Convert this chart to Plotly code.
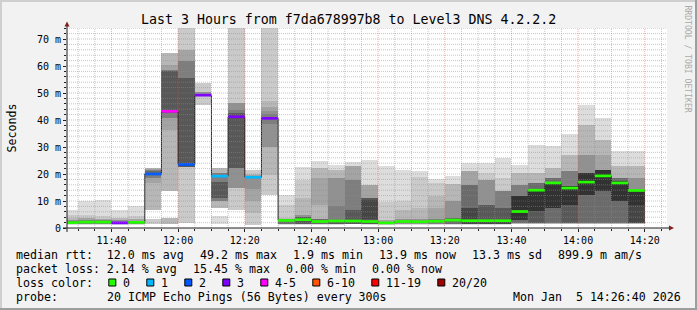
import plotly.graph_objects as go
from datetime import datetime, timedelta

# ---------------- data ----------------
DAY = "2026-01-05"
BAR_STARTS = ["11:25", "11:30", "11:35", "11:40", "11:45", "11:50", "11:55",
              "12:00", "12:05", "12:10", "12:15", "12:20", "12:25", "12:30",
              "12:35", "12:40", "12:45", "12:50", "12:55", "13:00", "13:05",
              "13:10", "13:15", "13:20", "13:25", "13:30", "13:35", "13:40",
              "13:45", "13:50", "13:55", "14:00", "14:05", "14:10", "14:15"]
MEDIAN_MS = [2.0, 2.2, 2.2, 1.9, 2.1, 20.0, 43.2, 23.5, 49.2, 19.2, 41.2, 18.8, 40.6,
             2.8, 3.1, 2.4, 2.6, 2.6, 2.4, 1.9, 2.4, 2.3, 2.5, 2.9, 2.7, 2.7, 2.7,
             6.1, 14.0, 16.7, 14.8, 17.0, 19.3, 16.7, 13.9]
LOST_PINGS = [0, 0, 0, 3, 0, 2, 5, 2, 3, 1, 3, 1, 3,
              0, 0, 0, 0, 0, 0, 0, 0, 0, 0, 0, 0, 0, 0,
              0, 0, 0, 0, 0, 0, 0, 0]
# smoke bands per bar: (low ms, high ms, ping-rank 1=outermost .. 10=innermost)
SMOKE = [
    [(1.2, 6.8, 1), (1.3, 4.9, 2), (1.4, 3.7, 3), (1.5, 3.0, 5), (1.6, 2.5, 7)],
    [(1.2, 9.9, 1), (1.3, 4.9, 2), (1.4, 3.7, 4), (1.6, 2.8, 6)],
    [(1.2, 10.5, 1), (1.3, 4.3, 2), (1.4, 3.5, 4), (1.6, 2.8, 6)],
    [(1.2, 6.5, 1), (1.3, 3.7, 3), (1.4, 2.8, 5), (1.5, 2.3, 7)],
    [(1.2, 8.0, 1), (1.3, 4.3, 2), (1.4, 3.3, 4), (1.6, 2.6, 6)],
    [(1.6, 3.5, 2), (6.5, 22.2, 3), (16.7, 21.8, 4), (18.5, 21.3, 6), (19.5, 21.0, 7)],
    [(1.6, 3.7, 3), (13.6, 64.8, 3), (36.4, 60.5, 4), (40.7, 58.6, 6), (42.5, 58.0, 8)],
    [(1.9, 80.0, 2), (24.0, 66.0, 4), (24.0, 61.7, 6), (22.5, 55.6, 8)],
    [(45.7, 53.7, 2), (48.8, 50.3, 5)],
    [(1.6, 4.5, 1), (7.5, 22.2, 3), (9.9, 20.5, 6), (11.1, 17.0, 8)],
    [(6.8, 80.0, 2), (14.8, 46.3, 5), (22.2, 43.8, 6), (22.2, 42.5, 8)],
    [(1.0, 21.3, 2), (5.6, 20.0, 3), (9.9, 19.5, 4), (14.5, 19.2, 5)],
    [(12.1, 80.0, 2), (19.7, 46.9, 3), (30.0, 45.0, 4), (30.0, 43.2, 5), (38.5, 42.3, 6)],
    [(1.2, 12.3, 1), (1.3, 8.6, 2), (1.5, 3.7, 3), (1.6, 3.3, 7)],
    [(1.2, 22.6, 1), (1.3, 17.9, 2), (1.4, 11.1, 3), (1.5, 4.9, 5), (1.6, 4.0, 8)],
    [(1.2, 24.7, 1), (1.3, 22.2, 3), (8.6, 18.5, 4), (1.5, 3.3, 7)],
    [(1.2, 23.2, 1), (1.3, 21.6, 3), (1.4, 18.5, 5), (1.5, 8.0, 6), (1.6, 3.1, 8)],
    [(1.3, 24.3, 1), (1.4, 22.8, 4), (1.5, 17.9, 6), (1.6, 6.8, 8)],
    [(1.2, 25.3, 1), (1.3, 16.0, 4), (1.4, 11.1, 8), (3.5, 10.5, 9)],
    [(1.1, 23.1, 1), (1.2, 9.5, 2), (1.3, 3.0, 4)],
    [(1.2, 21.6, 1), (1.3, 9.9, 2), (1.4, 6.8, 3), (1.5, 3.3, 5)],
    [(1.2, 21.0, 1), (1.3, 18.8, 2), (1.4, 7.4, 3), (1.5, 3.2, 5)],
    [(1.2, 18.2, 1), (1.3, 16.7, 2), (1.4, 11.7, 3), (1.5, 7.4, 4), (1.6, 3.4, 6)],
    [(1.2, 19.3, 1), (1.3, 16.3, 3), (1.4, 9.9, 5), (1.6, 3.6, 7)],
    [(1.2, 24.1, 1), (1.3, 21.0, 4), (1.4, 16.0, 7), (1.6, 7.4, 9)],
    [(1.2, 24.1, 1), (1.3, 20.4, 2), (1.4, 17.9, 5), (1.5, 8.6, 8), (1.6, 3.1, 9)],
    [(1.2, 25.9, 1), (1.3, 18.5, 2), (1.4, 13.6, 6), (1.5, 7.4, 8), (1.6, 3.1, 9)],
    [(1.5, 23.2, 1), (1.6, 20.4, 3), (1.7, 16.0, 6), (1.9, 11.7, 7), (3.1, 11.7, 10)],
    [(1.5, 30.9, 1), (1.6, 20.4, 3), (1.9, 16.7, 7), (1.9, 14.4, 8), (6.2, 14.4, 10)],
    [(1.5, 30.2, 1), (1.6, 22.2, 3), (1.9, 18.5, 7), (7.4, 17.2, 10)],
    [(1.5, 34.8, 1), (1.6, 27.2, 3), (1.9, 21.0, 6), (1.9, 15.4, 8), (8.6, 15.4, 10)],
    [(1.5, 45.4, 1), (1.6, 38.3, 3), (1.9, 27.2, 5), (1.9, 20.4, 7), (12.3, 20.4, 10)],
    [(1.5, 40.7, 1), (1.6, 32.7, 3), (1.9, 27.2, 4), (1.9, 21.6, 7), (13.6, 21.6, 10)],
    [(1.5, 28.6, 1), (1.6, 22.8, 3), (1.9, 18.5, 7), (9.9, 17.3, 10)],
    [(1.5, 28.6, 1), (1.6, 22.8, 3), (1.9, 18.5, 5), (1.9, 14.2, 9), (8.6, 14.2, 10)],
]
X_TICK_TIMES = ["11:40", "12:00", "12:20", "12:40", "13:00", "13:20", "13:40", "14:00", "14:20"]
X_TICK_LABELS = ["11:40", "12:00", "12:20", "12:40", "13:00", "13:20", "13:40", "14:00", "14:20"]
Y_TICK_VALUES = [0, 10, 20, 30, 40, 50, 60, 70]
Y_TICK_LABELS = ["0", "10 m", "20 m", "30 m", "40 m", "50 m", "60 m", "70 m"]
LOSS_LABELS = ["0", "1", "2", "3", "4-5", "6-10", "11-19", "20/20"]
LOSS_UPPER = [0, 1, 2, 3, 5, 10, 19, 20]
LOSS_COLORS = ["#26ff00", "#00b8ff", "#0059ff", "#7e00ff", "#ff00ff", "#ff5500", "#ff0000", "#a10000"]
TITLE = "Last 3 Hours from f7da678997b8 to Level3 DNS 4.2.2.2"
LEGEND_RTT = ["median rtt:  12.0 ms avg", "49.2 ms max", "1.9 ms min", "13.9 ms now",
              "13.3 ms sd", "899.9 m am/s"]
LEGEND_LOSS = ["packet loss: 2.14 % avg", "15.45 % max", "0.00 % min", "0.00 % now"]
PROBE_LABEL = "probe:"
PROBE_TEXT = "20 ICMP Echo Pings (56 Bytes) every 300s"
STAMP = "Mon Jan  5 14:26:40 2026"
WATERMARK = "RRDTOOL / TOBI OETIKER"
RANGE_START, RANGE_END = "11:26:40", "14:26:40"

# ---------------- layout constants ----------------
W, H = 697, 310
ML, MR, MT, MB = 67, 30, 28, 82
PW, PH = W - ML - MR, H - MT - MB
YMAX = 200 / 2.7
STEP = timedelta(minutes=5)
MONO = "DejaVu Sans Mono"
PITCH = 7.0
LEG_SIZE = PITCH / 0.60205
GAP = 16


def px(x):
    return (x - ML) / PW


def py(y):
    return (H - MB - y) / PH


def tm(s):
    fmt = "%Y-%m-%d %H:%M:%S" if s.count(":") == 2 else "%Y-%m-%d %H:%M"
    return datetime.strptime(DAY + " " + s, fmt)


def nb(s):
    return s.replace(" ", "\u00a0")


def gray(rank):
    v = int(190 / 10 * (10 - rank)) + 50
    return "#%02x%02x%02x" % (v, v, v)


def loss_color(lost):
    for up, c in zip(LOSS_UPPER, LOSS_COLORS):
        if lost <= up:
            return c
    return LOSS_COLORS[-1]


starts = [tm(s) for s in BAR_STARTS]
centers = [s + STEP / 2 for s in starts]

fig = go.Figure()

# smoke
for rank in range(1, 11):
    xs, bases, hs = [], [], []
    for c, bands in zip(centers, SMOKE):
        for lo, hi, r in bands:
            if r == rank:
                xs.append(c)
                bases.append(lo)
                hs.append(hi - lo)
    if xs:
        fig.add_trace(go.Bar(x=xs, y=hs, base=bases, width=STEP.total_seconds() * 1000,
                             marker=dict(color=gray(rank), line=dict(width=0)),
                             showlegend=False, hoverinfo="skip"))

# black median step line
fig.add_trace(go.Scatter(x=starts + [starts[-1] + STEP], y=MEDIAN_MS + [MEDIAN_MS[-1]],
                         mode="lines", line=dict(color="#202020", width=1, shape="hv"),
                         showlegend=False, hoverinfo="skip"))

# loss-coloured median bands
groups = {}
for s, m, lost in zip(starts, MEDIAN_MS, LOST_PINGS):
    col = loss_color(lost)
    g = groups.setdefault(col, ([], []))
    g[0].extend([s, s + STEP, None])
    g[1].extend([m, m, None])
for col, (xs, ys) in groups.items():
    fig.add_trace(go.Scatter(x=xs, y=ys, mode="lines", line=dict(color=col, width=2.7),
                             showlegend=False, hoverinfo="skip"))

shapes = []
# grid (drawn over the graph, like rrdtool)
GRID = "rgba(143,143,143,0.5)"
MGRID = "rgba(222,79,79,0.45)"
major_x = [tm(t) for t in X_TICK_TIMES]
t = tm("11:30")
while t <= tm("14:25"):
    if t not in major_x:
        shapes.append(dict(type="line", xref="x", yref="paper", x0=t, x1=t, y0=0, y1=1,
                           line=dict(color=GRID, width=1, dash="1px,1px"), layer="above"))
    t += STEP
for v in range(2, 75, 2):
    if v % 10:
        shapes.append(dict(type="line", xref="paper", yref="y", x0=0, x1=1, y0=v, y1=v,
                           line=dict(color=GRID, width=1, dash="1px,1px"), layer="above"))
for t in major_x:
    shapes.append(dict(type="line", xref="x", yref="paper", x0=t, x1=t, y0=0, y1=1,
                       line=dict(color=MGRID, width=1, dash="1px,1px"), layer="above"))
for v in Y_TICK_VALUES[1:]:
    shapes.append(dict(type="line", xref="paper", yref="y", x0=0, x1=1, y0=v, y1=v,
                       line=dict(color=MGRID, width=1, dash="1px,1px"), layer="above"))

# axes with arrows
AX = "#1f1f1f"
ARROW = "#801f1f"
shapes.append(dict(type="line", xref="paper", yref="paper", x0=0, x1=0, y0=py(232), y1=py(25),
                   line=dict(color=AX, width=1), layer="above"))
shapes.append(dict(type="line", xref="paper", yref="paper", x0=px(63), x1=px(670), y0=0, y1=0,
                   line=dict(color=AX, width=1), layer="above"))
shapes.append(dict(type="path", xref="paper", yref="paper",
                   path="M %f,%f L %f,%f L %f,%f Z" % (px(64.5), py(26.5), px(69.5), py(26.5), px(67), py(21.5)),
                   fillcolor=ARROW, line=dict(width=0), layer="above"))
shapes.append(dict(type="path", xref="paper", yref="paper",
                   path="M %f,%f L %f,%f L %f,%f Z" % (px(669), py(225.5), px(669), py(230.5), px(674), py(228)),
                   fillcolor=ARROW, line=dict(width=0), layer="above"))

# 3D frame
for (x0, y0, x1, y1, c) in [(0, 0, W, 2, "#cfcfcf"), (0, 0, 2, H, "#cfcfcf"),
                             (0, H - 2, W, H, "#9e9e9e"), (W - 2, 0, W, H, "#9e9e9e")]:
    shapes.append(dict(type="rect", xref="paper", yref="paper", x0=px(x0), x1=px(x1),
                       y0=py(y0), y1=py(y1), fillcolor=c, line=dict(width=0), layer="above"))

annotations = []


def text(x, y, s, size=LEG_SIZE, anchor="left", color="#000000", angle=0):
    annotations.append(dict(x=px(x), y=py(y), xref="paper", yref="paper", text=nb(s),
                            showarrow=False, xanchor=anchor, yanchor="middle",
                            font=dict(family=MONO, size=size, color=color),
                            borderpad=0, borderwidth=0, textangle=angle))


text(W / 2, 19.5, TITLE, size=8.0 / 0.60205, anchor="center")
text(11.5, 128, "Seconds", angle=-90, anchor="center")
text(687.5, 59, WATERMARK, size=8.1, angle=90, anchor="center", color="#aaaaaa")

x = 16
for s in LEGEND_RTT:
    text(x, 254.5, s)
    x += len(s) * PITCH + GAP
x = 16
for s in LEGEND_LOSS:
    text(x, 268.5, s)
    x += len(s) * PITCH + GAP
text(16, 282.5, "loss color:")
x = 16 + len("loss color:") * PITCH + GAP - 0.7
for lab, col in zip(LOSS_LABELS, LOSS_COLORS):
    shapes.append(dict(type="rect", xref="paper", yref="paper", x0=px(x + 0.5), x1=px(x + 7.5),
                       y0=py(279), y1=py(286), fillcolor=col, line=dict(color="#000000", width=1),
                       layer="above"))
    text(x + 15, 282.5, lab)
    x += 15 + len(lab) * PITCH + GAP
text(16, 296.5, PROBE_LABEL)
text(107, 296.5, PROBE_TEXT)
text(681, 296.5, STAMP, anchor="right")

fig.update_layout(
    width=W, height=H, margin=dict(l=ML, r=MR, t=MT, b=MB, pad=0),
    paper_bgcolor="#f2f2f2", plot_bgcolor="#ffffff",
    barmode="overlay", bargap=0, showlegend=False,
    shapes=shapes, annotations=annotations,
    xaxis=dict(type="date", range=[tm(RANGE_START), tm(RANGE_END)],
               tickmode="array", tickvals=major_x, ticktext=X_TICK_LABELS,
               showgrid=False, zeroline=False, showline=False,
               ticks="outside", ticklen=3, tickwidth=1, tickcolor=AX,
               tickfont=dict(family=MONO, size=10, color="#000000"),
               minor=dict(ticks="outside", ticklen=2, tickcolor=AX,
                          tickvals=[tm("11:30") + STEP * i for i in range(36)], showgrid=False),
               fixedrange=True),
    yaxis=dict(range=[0, YMAX], tickmode="array", tickvals=Y_TICK_VALUES, ticktext=Y_TICK_LABELS,
               showgrid=False, zeroline=False, showline=False,
               ticks="outside", ticklen=3, tickwidth=1, tickcolor=AX,
               tickfont=dict(family=MONO, size=10, color="#000000"),
               minor=dict(ticks="outside", ticklen=2, tickcolor=AX,
                          tickvals=list(range(2, 75, 2)), showgrid=False),
               fixedrange=True),
)

fig.write_html("out.html", config={"displayModeBar": False})
